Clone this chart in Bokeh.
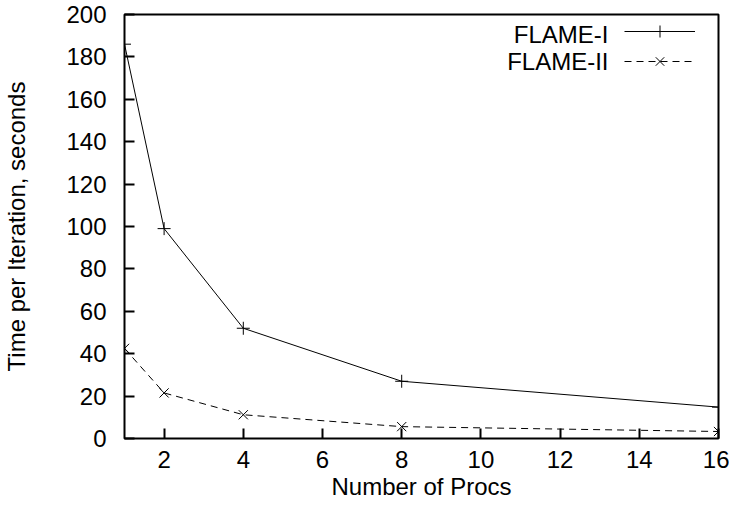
from bokeh.plotting import figure
from bokeh.models import Range1d, FixedTicker, Legend, LegendItem, Label
from bokeh.core.properties import value
from bokeh.embed import file_html
from bokeh.resources import INLINE

# ---- data ----
procs = [1, 2, 4, 8, 16]
flame1 = [186, 99, 52, 27, 14.8]
flame2 = [42.5, 21.5, 11.2, 5.6, 3.3]
series_names = ["FLAME-I", "FLAME-II"]
x_ticks = [2, 4, 6, 8, 10, 12, 14, 16]
y_ticks = [0, 20, 40, 60, 80, 100, 120, 140, 160, 180, 200]
x_title = "Number of Procs"
y_title = "Time per Iteration, seconds"

FONT = "Liberation Sans"
FS = "24px"

p = figure(width=729, height=505, output_backend="svg", toolbar_location=None,
           x_range=Range1d(1, 16), y_range=Range1d(0, 200),
           min_border_left=118, min_border_right=11, min_border_top=14,
           min_border_bottom=67)
p.background_fill_color = "white"
p.border_fill_color = "white"
p.outline_line_color = "black"
p.outline_line_width = 2
p.xgrid.visible = False
p.ygrid.visible = False

for ax in (p.xaxis[0], p.yaxis[0]):
    ax.axis_line_color = None
    ax.major_tick_in = 10
    ax.major_tick_out = 0
    ax.major_tick_line_width = 2
    ax.major_tick_line_color = "black"
    ax.minor_tick_line_color = None
    ax.major_label_text_font = FONT
    ax.major_label_text_font_size = FS
    ax.major_label_text_color = "black"
    ax.axis_label_text_font = FONT
    ax.axis_label_text_font_size = FS
    ax.axis_label_text_font_style = "normal"
    ax.axis_label_text_color = "black"

p.xaxis.ticker = FixedTicker(ticks=x_ticks)
p.yaxis.ticker = FixedTicker(ticks=y_ticks)
p.xaxis.axis_label = x_title
p.yaxis.axis_label = y_title
p.xaxis.major_label_standoff = 12
p.yaxis.major_label_standoff = 18
p.xaxis.axis_label_standoff = 2
p.yaxis.axis_label_standoff = 33

l1 = p.line(procs, flame1, line_color="black", line_width=1)
m1 = p.scatter(procs, flame1, marker="cross", size=13, line_color="black", line_width=1)
l2 = p.line(procs, flame2, line_color="black", line_width=1, line_dash="7 5")
m2 = p.scatter(procs, flame2, marker="x", size=13, line_color="black", line_width=1)

legend = Legend(items=[LegendItem(label=value(" "), renderers=[l1, m1]),
                       LegendItem(label=value(" "), renderers=[l2, m2])],
                location=(500, 362), padding=0, margin=0, spacing=-4,
                glyph_width=71, glyph_height=30, label_width=0, label_standoff=0,
                label_height=0, label_text_font_size="8px",
                border_line_color=None, background_fill_alpha=0)
p.add_layout(legend)

for name, yy in zip(series_names, [404, 377]):
    p.add_layout(Label(x=484, y=yy, x_units="screen", y_units="screen", text=name,
                       text_align="right", text_baseline="middle",
                       text_font=FONT, text_font_size=FS, text_color="black"))

open("out.html", "w").write(file_html(p, INLINE))
